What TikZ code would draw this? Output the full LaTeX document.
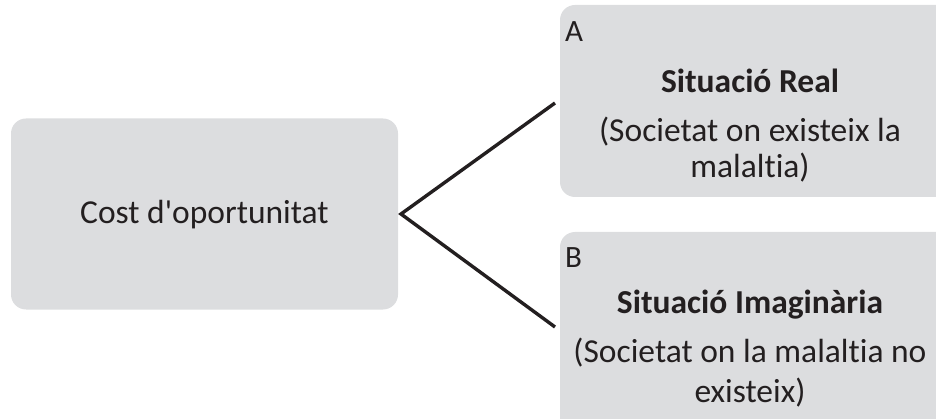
\documentclass[tikz,border=0pt]{standalone}
\usepackage{fontspec}
\setmainfont{Carlito}[Ligatures={TeXOff,CommonOff}]
\definecolor{boxgray}{HTML}{DCDDDF}
\definecolor{ink}{HTML}{231F20}
\begin{document}
\begin{tikzpicture}[x=1pt,y=-1pt,
  box/.style={fill=boxgray,draw=none,rounded corners=15pt},
  txt/.style={inner sep=0pt,anchor=base,text=ink,font=\fontsize{33.5}{36}\selectfont},
  lbl/.style={inner sep=0pt,anchor=base west,text=ink,font=\fontsize{31}{36}\selectfont},
  conn/.style={line width=3.4pt,draw=ink,line join=miter}]
\useasboundingbox (0,0) rectangle (936,419);
\begin{scope}
\clip (0,0) rectangle (936,419);
\node[box,minimum width=387pt,minimum height=191pt,inner sep=0pt] (L) at (204.5,214) {};
\node[box,minimum width=400pt,minimum height=192pt,inner sep=0pt] (A) at (760,101) {};
\node[box,minimum width=400pt,minimum height=202pt,inner sep=0pt] (B) at (760,333) {};
\end{scope}
\coordinate (Aend) at (555,103);
\coordinate (Bend) at (555,327);
\coordinate (apex) at (401,214);
\draw[conn] (Aend) -- (apex) -- (Bend);
\node[txt] (Lt) at (204.5,224) {Cost d'oportunitat};
\node[lbl] (Al) at (565,42) {A};
\node[txt,font=\fontsize{33.5}{36}\selectfont\bfseries] (At) at (750,93) {Situació Real};
\node[txt] (A1) at (750,142) {(Societat on existeix la};
\node[txt] (A2) at (750,178) {malaltia)};
\node[lbl] (Bl) at (565,268) {B};
\node[txt,font=\fontsize{33.5}{36}\selectfont\bfseries] (Bt) at (750,313) {Situació Imaginària};
\node[txt] (B1) at (750,362) {(Societat on la malaltia no};
\node[txt] (B2) at (750,402) {existeix)};
\end{tikzpicture}
\end{document}
